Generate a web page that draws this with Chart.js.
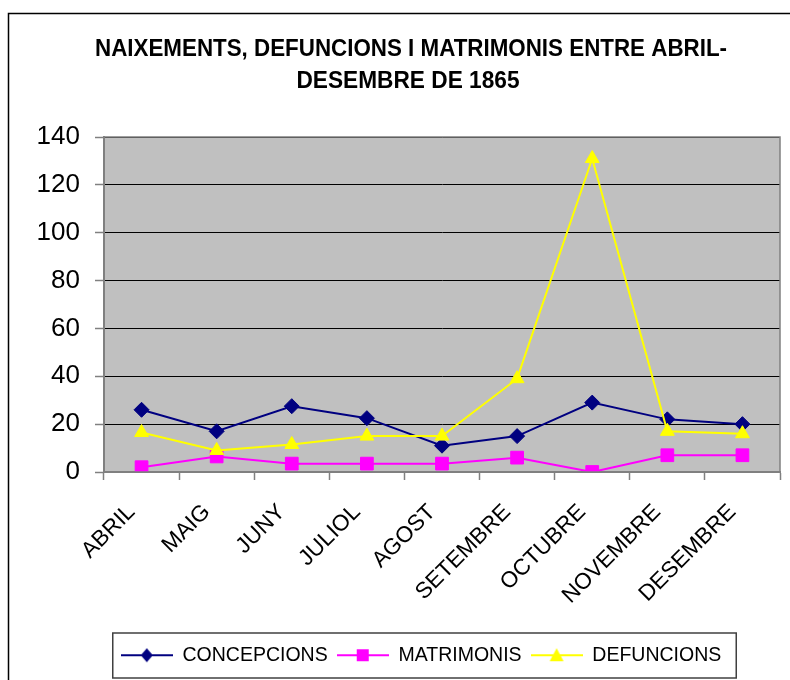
<!DOCTYPE html>
<html>
<head>
<meta charset="utf-8">
<script src="https://cdn.jsdelivr.net/npm/chart.js@4.4.1/dist/chart.umd.min.js"></script>
<style>
  html, body { margin: 0; padding: 0; background: #fff; }
  #wrap { width: 790px; height: 680px; }
</style>
</head>
<body>
<div id="wrap"><canvas id="naixements" width="790" height="680"></canvas></div>
<script>
// data
var months = ['ABRIL', 'MAIG', 'JUNY', 'JULIOL', 'AGOST', 'SETEMBRE', 'OCTUBRE', 'NOVEMBRE', 'DESEMBRE'];
var concepcions = [26, 17, 27.5, 22.5, 11, 15, 29, 22, 20];
var matrimonis = [2, 6.5, 3.5, 3.5, 3.5, 6, 0, 7, 7];
var defuncions = [16.5, 9, 11.5, 15, 15, 39, 131, 17, 16];
var yTicks = [0, 20, 40, 60, 80, 100, 120, 140];
var titleLines = ['NAIXEMENTS, DEFUNCIONS I MATRIMONIS ENTRE ABRIL-', 'DESEMBRE DE 1865'];

var FONT = "'Liberation Sans', Arial, sans-serif";

// small picture of line + marker for the legend (excel style)
function legendIcon(color, shape) {
  var c = document.createElement('canvas');
  c.width = 52; c.height = 18;
  var g = c.getContext('2d');
  g.strokeStyle = color;
  g.lineWidth = 2;
  g.beginPath(); g.moveTo(0, 9); g.lineTo(52, 9); g.stroke();
  g.fillStyle = color;
  g.beginPath();
  if (shape == 'diamond') {
    g.moveTo(26, 2); g.lineTo(32, 9); g.lineTo(26, 16); g.lineTo(20, 9);
  } else if (shape == 'square') {
    g.rect(20, 3, 12, 12);
  } else {
    g.moveTo(26, 2); g.lineTo(33, 15); g.lineTo(19, 15);
  }
  g.closePath(); g.fill();
  return c;
}
var icons = [legendIcon('#000080', 'diamond'), legendIcon('#FF00FF', 'square'), legendIcon('#FFFF00', 'triangle')];

var frame = {
  id: 'frame',
  afterLayout: function(chart) {
    // legend sits a bit right of centre, like the excel one
    chart.legend.left = 55;
    chart.legend.right = 787;
  },
  beforeDraw: function(chart) {
    var ctx = chart.ctx, a = chart.chartArea;
    ctx.save();
    ctx.fillStyle = '#fff';
    ctx.fillRect(0, 0, chart.width, chart.height);
    // outer chart border
    ctx.strokeStyle = '#000';
    ctx.lineWidth = 1.5;
    ctx.strokeRect(8.5, 13.5, 1000, 1000);
    // plot area
    ctx.fillStyle = '#C0C0C0';
    ctx.fillRect(a.left, a.top, a.right - a.left, a.bottom - a.top);
    ctx.restore();
  },
  afterDraw: function(chart) {
    var ctx = chart.ctx, a = chart.chartArea;
    ctx.save();
    ctx.strokeStyle = '#808080';
    ctx.lineWidth = 1.5;
    ctx.strokeRect(a.left, a.top, a.right - a.left, a.bottom - a.top);
    // title
    ctx.fillStyle = '#000';
    ctx.font = 'bold 24px ' + FONT;
    ctx.textAlign = 'center';
    ctx.textBaseline = 'alphabetic';
    ctx.fillText(titleLines[0], 411, 56, 632);
    ctx.fillText(titleLines[1], 408, 88, 223);
    // box round the legend
    var hb = chart.legend.legendHitBoxes;
    if (hb && hb.length) {
      var last = hb[hb.length - 1];
      var x0 = hb[0].left - 8;
      ctx.strokeStyle = '#404040';
      ctx.lineWidth = 1.5;
      ctx.strokeRect(x0, 633, last.left + last.width + 15 - x0, 45);
    }
    ctx.restore();
  }
};

var ctx = document.getElementById('naixements');
var chart = new Chart(ctx, {
  type: 'line',
  data: {
    labels: months,
    datasets: [{
      label: 'CONCEPCIONS',
      data: concepcions,
      borderColor: '#000080',
      backgroundColor: '#000080',
      borderWidth: 2,
      pointStyle: 'rectRot',
      pointRadius: 7.5,
      pointBorderWidth: 1,
      order: 2
    }, {
      label: 'MATRIMONIS',
      data: matrimonis,
      borderColor: '#FF00FF',
      backgroundColor: '#FF00FF',
      borderWidth: 2,
      pointStyle: 'rect',
      pointRadius: 9,
      pointBorderWidth: 1,
      order: 1
    }, {
      label: 'DEFUNCIONS',
      data: defuncions,
      borderColor: '#FFFF00',
      backgroundColor: '#FFFF00',
      borderWidth: 2,
      pointStyle: 'triangle',
      pointRadius: 8,
      pointBorderWidth: 1,
      order: 0
    }]
  },
  options: {
    responsive: false,
    animation: false,
    layout: { padding: { top: 137, left: 0, right: 3, bottom: 5 } },
    plugins: {
      title: { display: false },
      tooltip: { enabled: false },
      legend: {
        display: true,
        position: 'bottom',
        labels: {
          usePointStyle: true,
          pointStyleWidth: 52,
          padding: 9,
          color: '#000',
          font: { family: FONT, size: 19.5 },
          generateLabels: function(chart) {
            return chart.data.datasets.map(function(ds, i) {
              return {
                text: ds.label,
                pointStyle: icons[i],
                fillStyle: ds.backgroundColor,
                strokeStyle: ds.borderColor,
                lineWidth: 0,
                fontColor: '#000',
                hidden: false,
                datasetIndex: i
              };
            });
          }
        }
      }
    },
    scales: {
      x: {
        offset: true,
        afterFit: function(scale) { scale.height = 164.5; },
        grid: { drawOnChartArea: false, drawTicks: true, tickLength: 8, offset: true, tickColor: '#808080', tickWidth: 1.5 },
        border: { color: '#808080', width: 2 },
        ticks: {
          autoSkip: false,
          maxRotation: 45,
          minRotation: 45,
          padding: 19,
          labelOffset: -10,
          color: '#000',
          font: { family: FONT, size: 22.5 }
        }
      },
      y: {
        min: 0,
        max: 140,
        afterFit: function(scale) { scale.width = 104; },
        afterBuildTicks: function(scale) {
          scale.ticks = yTicks.map(function(v) { return { value: v }; });
        },
        grid: { color: '#000', lineWidth: 1, tickLength: 9, tickColor: '#808080', tickWidth: 1.5 },
        border: { color: '#808080', width: 2 },
        ticks: {
          padding: 15,
          color: '#000',
          font: { family: FONT, size: 26 }
        }
      }
    }
  },
  plugins: [frame]
});
</script>
</body>
</html>
